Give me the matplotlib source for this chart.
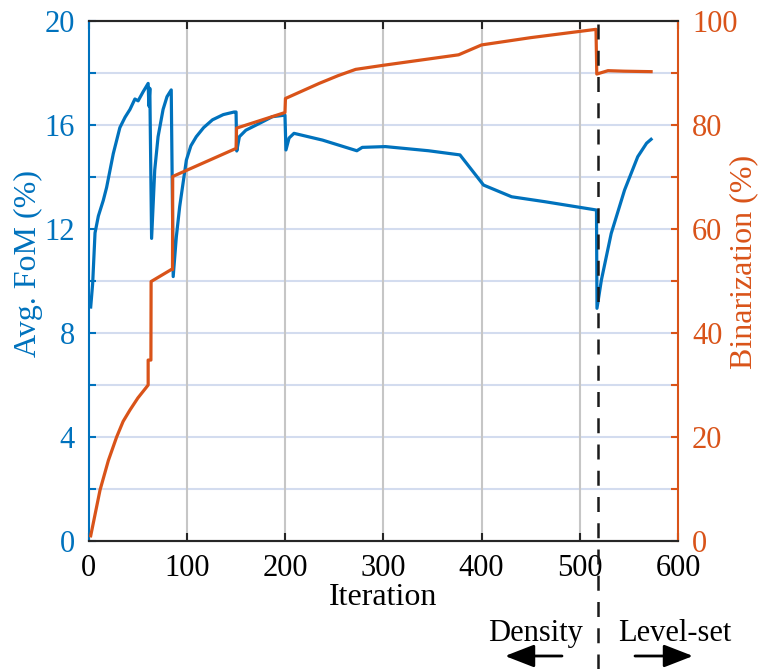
import matplotlib
matplotlib.use("Agg")
import matplotlib.pyplot as plt
from matplotlib import transforms
from matplotlib.ticker import MultipleLocator

# ---- data ----
fom_iter = [2, 4, 6.4, 9.8, 14.8, 18.2, 25, 31.7, 37, 42, 47, 50.3, 55.4, 60.5, 61.2, 62.2,
            64, 67.2, 70.6, 75.7, 79.7, 84, 86, 89.2, 92.6, 99.4, 104, 109.5, 117, 126, 137,
            148, 150, 150.7, 153.4, 160, 173.7, 187, 199.8, 200.8, 204, 209, 238, 273, 278.5,
            302, 346, 378, 402, 430.6, 464.5, 517, 517.5, 522, 532, 545.6, 559, 568, 572.6]
fom_val = [9.0, 9.9, 11.85, 12.5, 13.1, 13.6, 14.9, 15.9, 16.3, 16.6, 17.0, 16.93, 17.28, 17.6, 16.73, 17.41,
           11.64, 14.27, 15.55, 16.6, 17.09, 17.35, 10.17, 11.7, 12.86, 14.65, 15.2, 15.55, 15.9, 16.2, 16.4,
           16.5, 16.5, 15.0, 15.55, 15.8, 16.06, 16.32, 16.38, 15.04, 15.5, 15.68, 15.42, 15.01, 15.14,
           15.17, 15.01, 14.85, 13.69, 13.24, 13.05, 12.73, 8.95, 10.04, 11.83, 13.5, 14.78, 15.3, 15.45]

bin_iter = [2, 11.5, 20, 28.4, 35, 42, 50, 60.5, 60.5, 63.3, 63.5, 84, 85.3, 85.5, 150, 150.5,
            199.8, 200.3, 234.6, 254, 271.8, 300.5, 376.6, 400, 450, 516.5, 517.3, 528.7, 545, 572.6]
bin_val = [1, 9.8, 15.5, 20, 23, 25.2, 27.5, 30, 34.8, 34.8, 49.9, 52.2, 52.2, 70.1, 75.5, 79.4,
           82.4, 85.1, 88.0, 89.5, 90.7, 91.5, 93.5, 95.4, 96.8, 98.4, 89.8, 90.45, 90.35, 90.26]

switch_iter = 518.6

x_ticks = [0, 100, 200, 300, 400, 500, 600]
fom_ticks = [0, 4, 8, 12, 16, 20]
bin_ticks = [0, 20, 40, 60, 80, 100]

BLUE = '#0072BD'
ORANGE = '#D95319'

plt.rcParams['font.family'] = ['Liberation Serif', 'DejaVu Serif']

fig = plt.figure(figsize=(7.63, 6.69), dpi=100)
ax1 = fig.add_axes([0.1163, 0.1913, 0.7723, 0.7773])
ax2 = ax1.twinx()

FS = 22

ax1.set_xlim(0, 600)
ax1.set_ylim(0, 20)
ax2.set_ylim(0, 100)
ax1.set_xticks(x_ticks)
ax1.set_yticks(fom_ticks)
ax1.yaxis.set_minor_locator(MultipleLocator(2))
ax2.set_yticks(bin_ticks)
ax2.yaxis.set_minor_locator(MultipleLocator(10))

# grid lines: gray vertical, light-blue horizontal
for v in x_ticks[1:-1]:
    ax1.axvline(v, color='#c6c6c6', lw=1.5, zorder=0.5)
for v in range(2, 20, 2):
    ax1.axhline(v, color='#d3dcef', lw=1.5, zorder=0.4)

ax1.plot(fom_iter, fom_val, color=BLUE, lw=2.3, zorder=3)
ax2.plot(bin_iter, bin_val, color=ORANGE, lw=2.3, zorder=3)

# spines
ax1.spines['left'].set_color(BLUE)
ax1.spines['right'].set_visible(False)
ax2.spines['left'].set_visible(False)
ax2.spines['right'].set_color(ORANGE)
for a in (ax1, ax2):
    for s in ('top', 'bottom'):
        a.spines[s].set_color('#262626')
    for s in a.spines.values():
        s.set_linewidth(1.5)

ax1.tick_params(axis='x', which='both', direction='in', length=6, width=1.5, top=True,
                bottom=True, color='#262626', labelsize=FS, pad=9)
ax1.tick_params(axis='y', which='both', direction='in', length=5, width=1.5, color=BLUE,
                labelcolor=BLUE, labelsize=FS, pad=10, right=False)
ax2.tick_params(axis='y', which='both', direction='in', length=5, width=1.5, color=ORANGE,
                labelcolor=ORANGE, labelsize=FS, pad=10, left=False)
ax2.tick_params(axis='x', top=False, bottom=False)

ax1.set_xlabel('Iteration', fontsize=FS + 1, labelpad=0)
ax1.set_ylabel('Avg. FoM (%)', fontsize=FS + 1, color=BLUE)
ax1.yaxis.set_label_coords(-0.078, 0.533)
ax2.set_ylabel('Binarization (%)', fontsize=FS + 1, color=ORANGE)
ax2.yaxis.set_label_coords(1.087, 0.537)

# dashed switching line extending below the axes
tr = transforms.blended_transform_factory(ax2.transData, fig.transFigure)
ax2.plot([switch_iter, switch_iter], [0.0, 0.9686], transform=tr, color='#1a1a1a',
         lw=1.8, dashes=(6, 4.5), clip_on=False, zorder=5)

fig.text(535.5 / 763, 1 - 641 / 669, 'Density', fontsize=FS, ha='center', va='baseline')
fig.text(675 / 763, 1 - 641 / 669, 'Level-set', fontsize=FS, ha='center', va='baseline')
arrow_y = 1 - 656 / 669
ax1.annotate('', xy=(505 / 763, arrow_y), xytext=(562 / 763, arrow_y),
             xycoords='figure fraction', textcoords='figure fraction',
             arrowprops=dict(arrowstyle='-|>,head_length=0.9,head_width=0.35', lw=2,
                             color='black', shrinkA=0, shrinkB=0, mutation_scale=20))
ax1.annotate('', xy=(693 / 763, arrow_y), xytext=(635 / 763, arrow_y),
             xycoords='figure fraction', textcoords='figure fraction',
             arrowprops=dict(arrowstyle='-|>,head_length=0.9,head_width=0.35', lw=2,
                             color='black', shrinkA=0, shrinkB=0, mutation_scale=20))

fig.savefig('out.png', dpi=100)
